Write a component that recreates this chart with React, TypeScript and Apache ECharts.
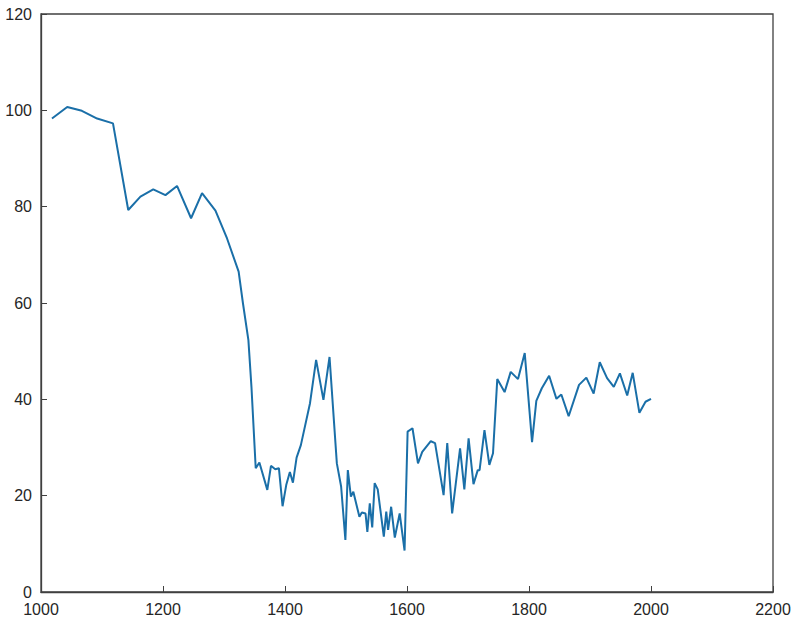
import React, { useEffect, useRef } from "react";
import * as echarts from "echarts";

const years = [
  1018, 1043, 1067, 1092, 1118, 1143, 1163, 1184, 1204, 1223, 1246, 1264, 1286, 1305, 1324, 1331,
  1340, 1345, 1352, 1358, 1371, 1377, 1384, 1390, 1396, 1402, 1408, 1413, 1419, 1426, 1441, 1451,
  1463, 1473, 1485, 1492, 1499, 1503, 1508, 1512, 1522, 1526, 1532, 1535, 1539, 1543, 1547, 1552,
  1562, 1566, 1569, 1574, 1580, 1588, 1596, 1601, 1609, 1618, 1625, 1639, 1646, 1660, 1666, 1674,
  1687, 1694, 1701, 1709, 1716, 1719, 1727, 1735, 1741, 1748, 1760, 1770, 1782, 1793, 1805, 1812,
  1821, 1833, 1845, 1853, 1865, 1882, 1894, 1906, 1916, 1928, 1939, 1949, 1961, 1970, 1981, 1991,
  2000,
];

const values = [
  98.3, 100.7, 99.9, 98.3, 97.3, 79.3, 82.1, 83.6, 82.4, 84.3, 77.6, 82.8, 79.2, 73.4, 66.5, 60.0,
  52.3, 42.6, 25.7, 26.9, 21.2, 26.2, 25.5, 25.7, 17.8, 22.2, 24.9, 22.7, 27.9, 30.5, 39.2, 48.2,
  39.9, 48.8, 26.7, 21.9, 10.8, 25.3, 19.8, 20.8, 15.6, 16.5, 16.3, 12.5, 18.4, 13.4, 22.6, 21.3,
  11.5, 16.7, 12.9, 17.7, 11.3, 16.3, 8.6, 33.3, 34.0, 26.7, 29.1, 31.3, 30.9, 20.1, 30.9, 16.3,
  29.8, 21.3, 31.9, 22.4, 25.3, 25.3, 33.6, 26.4, 28.8, 44.2, 41.5, 45.7, 44.2, 49.6, 31.1, 39.7,
  42.3, 44.9, 40.1, 41.0, 36.5, 43.0, 44.5, 41.2, 47.7, 44.4, 42.6, 45.4, 40.8, 45.5, 37.2, 39.5,
  40.1,
];

const xMin = 1000;
const xMax = 2200;
const xStep = 200;
const yMin = 0;
const yMax = 120;
const yStep = 20;

export default function App() {
  const ref = useRef<HTMLDivElement>(null);

  useEffect(() => {
    document.body.style.margin = "0";
    if (!ref.current) return;
    const chart = echarts.init(ref.current, undefined, { renderer: "svg" });
    const axisColor = "#404040";
    const labelStyle = {
      color: "#262626",
      fontFamily: "Liberation Sans, Arial, sans-serif",
      fontSize: 16,
    };
    chart.setOption({
      animation: false,
      backgroundColor: "#ffffff",
      grid: {
        left: 41,
        right: 27,
        top: 14,
        bottom: 41,
        show: true,
        borderColor: axisColor,
        borderWidth: 1.3,
        backgroundColor: "transparent",
      },
      xAxis: {
        type: "value",
        min: xMin,
        max: xMax,
        interval: xStep,
        axisLine: { show: true, onZero: false, lineStyle: { color: axisColor, width: 1.3 } },
        axisTick: { show: true, inside: true, length: 6, lineStyle: { color: axisColor, width: 1 } },
        splitLine: { show: false },
        axisLabel: { ...labelStyle, margin: 9, formatter: (v: number) => String(v) },
      },
      yAxis: {
        type: "value",
        min: yMin,
        max: yMax,
        interval: yStep,
        axisLine: { show: true, lineStyle: { color: axisColor, width: 1.3 } },
        axisTick: { show: true, inside: true, length: 6, lineStyle: { color: axisColor, width: 1 } },
        splitLine: { show: false },
        axisLabel: { ...labelStyle, margin: 9, formatter: (v: number) => String(v) },
      },
      series: [
        {
          type: "line",
          data: years.map((y, i) => [y, values[i]]),
          showSymbol: false,
          symbol: "none",
          lineStyle: { color: "#1a6fa8", width: 2 },
        },
      ],
    });
    return () => chart.dispose();
  }, []);

  return <div ref={ref} style={{ width: 800, height: 633 }} />;
}
